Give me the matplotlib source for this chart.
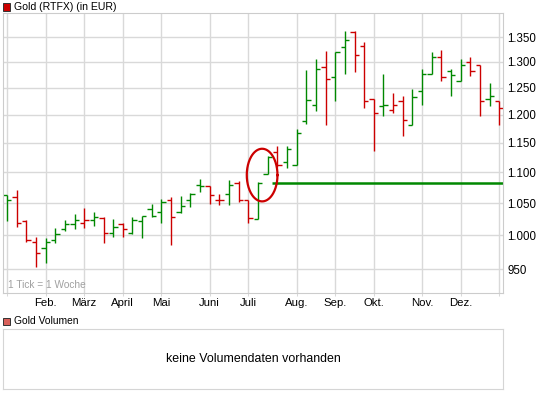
import numpy as np
import matplotlib
matplotlib.use("Agg")
import matplotlib.pyplot as plt
from matplotlib.patches import Rectangle
from matplotlib.ticker import FixedLocator, NullLocator

plt.rcParams['font.family'] = ['Liberation Sans', 'DejaVu Sans']

# ---------------- data (weekly OHLC, Gold RTFX in EUR) ----------------
opens = [1062.7, 1060.5, 1022.4, 989.6, 980.7, 993.0, 1009.2, 1016.9, 1018.4, 1023.5,
         1026.1, 1003.1, 1017.3, 1003.1, 1022.0, 1039.9, 1035.7, 1055.6, 1036.2, 1055.6,
         1079.1, 1077.4, 1055.6, 1063.8, 1082.0, 1054.4, 1024.5, 1097.2, 1134.8, 1117.4,
         1112.0, 1188.0, 1218.7, 1290.6, 1270.5, 1329.3, 1361.1, 1331.8, 1228.8, 1215.7,
         1208.8, 1224.9, 1182.6, 1243.8, 1277.5, 1309.8, 1281.4, 1263.9, 1300.0, 1293.6,
         1229.4, 1224.9]
highs = [1063.5, 1070.4, 1023.5, 997.0, 995.5, 1010.7, 1023.5, 1032.7, 1041.9, 1036.2,
         1027.6, 1024.5, 1018.4, 1027.6, 1029.6, 1049.1, 1056.1, 1059.4, 1061.0, 1065.5,
         1088.5, 1077.4, 1063.8, 1087.3, 1086.2, 1054.4, 1084.5, 1127.0, 1145.1, 1145.1,
         1174.1, 1283.7, 1306.4, 1322.1, 1320.7, 1363.1, 1361.7, 1339.1, 1229.4, 1276.3,
         1240.6, 1234.3, 1248.1, 1285.6, 1320.1, 1324.0, 1285.6, 1305.9, 1309.8, 1293.6,
         1258.8, 1224.9]
lows = [1022.4, 1013.2, 989.6, 953.4, 959.3, 988.1, 1006.6, 1010.1, 1011.7, 1014.7,
        989.0, 997.9, 997.9, 1002.0, 996.4, 1027.6, 1019.3, 985.6, 1033.7, 1043.4,
        1068.1, 1049.1, 1046.5, 1046.5, 1051.6, 1019.3, 1024.5, 1097.2, 1108.9, 1107.7,
        1112.0, 1184.4, 1207.5, 1181.9, 1226.2, 1277.5, 1280.5, 1212.5, 1135.5, 1198.2,
        1202.6, 1162.0, 1181.3, 1218.2, 1276.2, 1262.5, 1235.6, 1263.3, 1272.4, 1198.2,
        1215.7, 1181.3]
closes = [1055.6, 1018.4, 993.0, 973.3, 989.6, 1001.5, 1017.3, 1024.0, 1023.0, 1027.6,
          1003.1, 1012.3, 1009.2, 1023.5, 1029.2, 1030.0, 1051.2, 1027.6, 1044.9, 1063.8,
          1077.4, 1063.2, 1055.6, 1079.1, 1054.4, 1026.1, 1082.0, 1125.8, 1112.0, 1139.1,
          1168.1, 1227.5, 1285.6, 1266.7, 1319.5, 1343.6, 1314.3, 1225.1, 1202.6, 1218.7,
          1217.6, 1190.4, 1233.5, 1275.6, 1309.8, 1270.5, 1274.8, 1293.1, 1281.4, 1226.2,
          1234.3, 1211.6]

month_weeks = [0, 4, 8, 12, 16, 21, 25, 30, 34, 38, 43, 47, 51]
month_labels = ['', 'Feb.', 'März', 'April', 'Mai', 'Juni', 'Juli', 'Aug.', 'Sep.',
                'Okt.', 'Nov.', 'Dez.', '']
price_ticks = [950, 1000, 1050, 1100, 1150, 1200, 1250, 1300, 1350]
price_labels = ['950', '1.000', '1.050', '1.100', '1.150', '1.200', '1.250', '1.300', '1.350']

# annotation: support line and highlighted gap
support_level = 1082.5
support_start_week = 27.5
ellipse_center_week = 26.43
ellipse_half_width_weeks = 1.59
ellipse_top_price = 1140.0
ellipse_bottom_price = 1052.7

# ---------------- figure ----------------
W, H = 545, 398
fig = plt.figure(figsize=(W / 100, H / 100), dpi=100)
fig.patch.set_facecolor('white')

def fx(x):
    return x / W

def fy(y):
    return 1 - y / H

GRID = '#d9d9d9'
RED = '#cc0000'
GREEN = '#008800'

ax = fig.add_axes([fx(3), fy(293.3), fx(500.3), (293.3 - 13) / H])
ax.set_yscale('log')
ax.set_xlim(-0.415, 51.415)
ax.set_ylim(916, 1400)

ax.yaxis.set_major_locator(FixedLocator(price_ticks))
ax.yaxis.set_minor_locator(NullLocator())
ax.set_yticklabels(price_labels)
ax.yaxis.tick_right()
ax.tick_params(axis='y', length=0, pad=3.0, labelsize=8.3, colors='black')

ax.set_xticks(month_weeks)
ax.set_xticklabels(month_labels)
ax.xaxis.set_minor_locator(NullLocator())
ax.tick_params(axis='x', length=2.3, width=0.75, color=GRID, pad=1.2, labelsize=8.2)

ax.grid(True, color=GRID, lw=1.0)
ax.set_axisbelow(True)
for s in ax.spines.values():
    s.set_color('#cccccc')
    s.set_linewidth(0.8)

x = np.arange(len(closes))
o = np.array(opens)
h = np.array(highs)
l = np.array(lows)
c = np.array(closes)
prev = np.concatenate([[c[0] - 1], c[:-1]])
cols = [GREEN if ci > pi else RED for ci, pi in zip(c, prev)]

tw = 0.45
ax.vlines(x, l, h, colors=cols, lw=1.0)
ax.hlines(o, x - tw, x, colors=cols, lw=1.0)
ax.hlines(c, x, x + tw, colors=cols, lw=1.0)

# support line
ax.hlines(support_level, support_start_week, 51.415, colors=GREEN, lw=1.8)

# ellipse (drawn in log space)
t = np.linspace(0, 2 * np.pi, 200)
lc = (np.log10(ellipse_top_price) + np.log10(ellipse_bottom_price)) / 2
lr = (np.log10(ellipse_top_price) - np.log10(ellipse_bottom_price)) / 2
ax.plot(ellipse_center_week + ellipse_half_width_weeks * np.cos(t),
        10 ** (lc + lr * np.sin(t)), color=RED, lw=1.6)

ax.text(fx(8), fy(285.5), '1 Tick = 1 Woche', transform=fig.transFigure,
        fontsize=7.3, color='#a0a0a0', va='center', ha='left')

# header
fig.patches.append(Rectangle((fx(3), fy(10.5)), fx(7), 7 / H, transform=fig.transFigure,
                             facecolor=RED, edgecolor='#333333', lw=0.7))
fig.text(fx(14.5), fy(7), 'Gold (RTFX) (in EUR)', fontsize=7.6, va='center', ha='left')

# volume panel
fig.patches.append(Rectangle((fx(3), fy(324.5)), fx(7), 7 / H, transform=fig.transFigure,
                             facecolor='#d9605a', edgecolor='#333333', lw=0.7))
fig.text(fx(14.5), fy(321), 'Gold Volumen', fontsize=7.4, va='center', ha='left')

ax2 = fig.add_axes([fx(3), fy(389.3), fx(500.3), 60 / H])
ax2.set_xticks([])
ax2.set_yticks([])
for s in ax2.spines.values():
    s.set_color('#d5d5d5')
    s.set_linewidth(0.8)
ax2.text(0.5, 0.5, 'keine Volumendaten vorhanden', transform=ax2.transAxes,
         ha='center', va='center', fontsize=8.9)

fig.savefig('out.png', dpi=100)
